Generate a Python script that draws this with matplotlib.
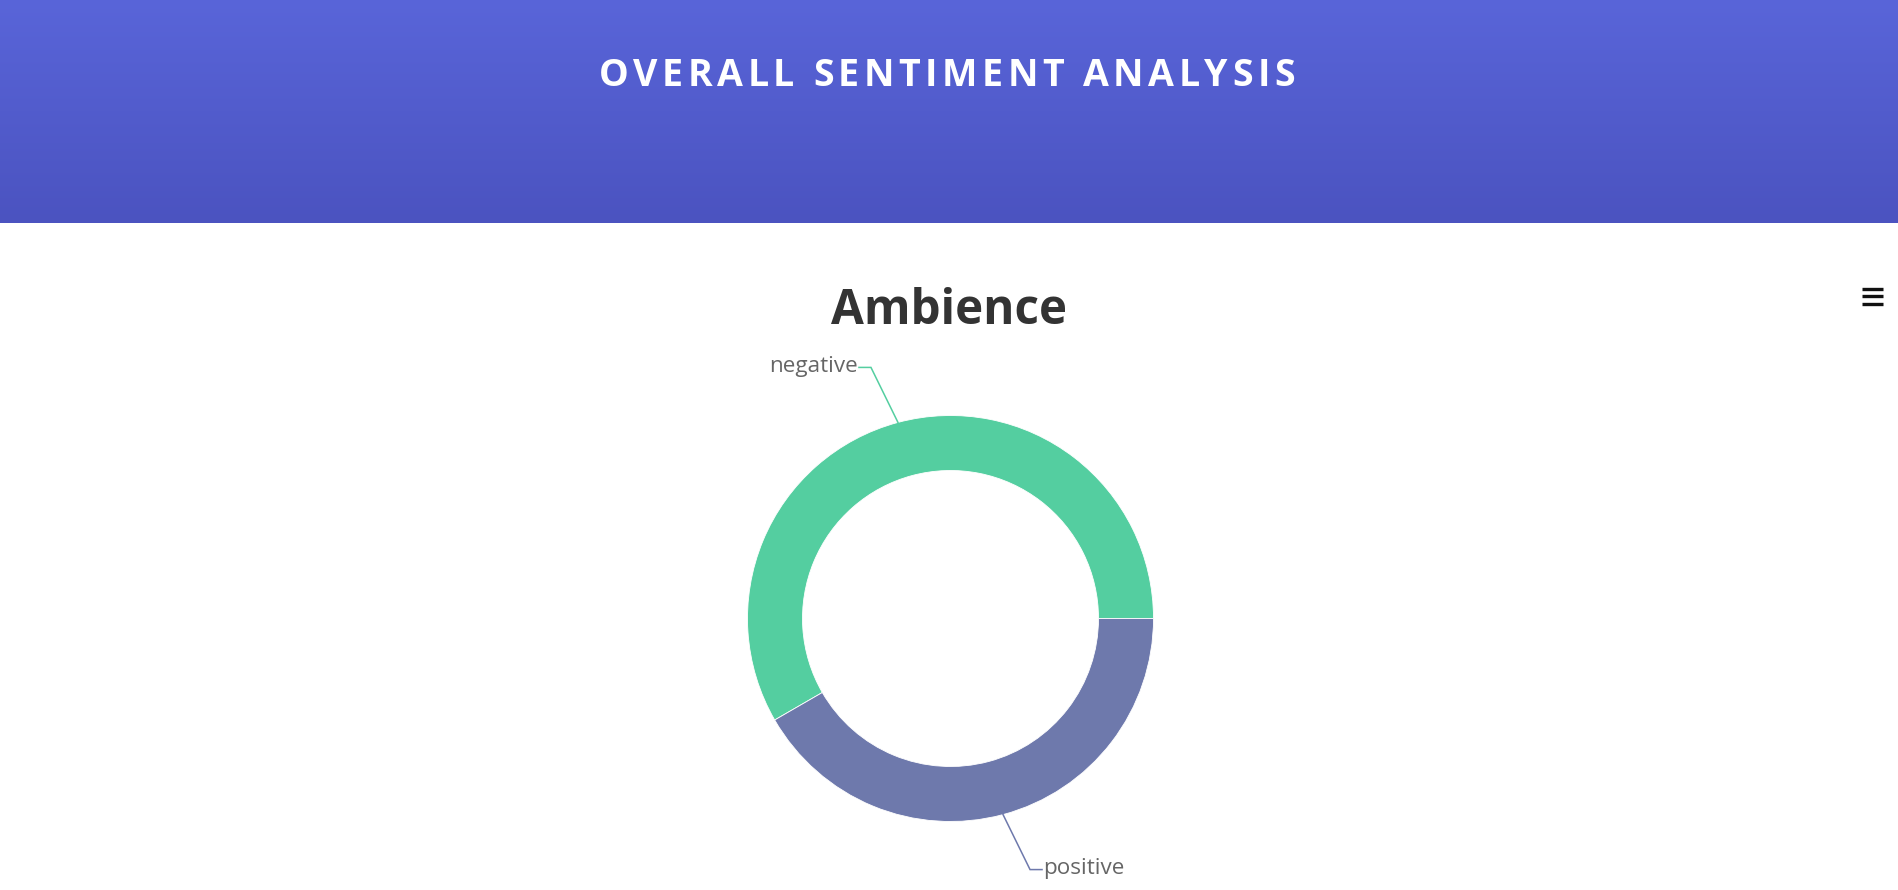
import numpy as np
import matplotlib
matplotlib.use("Agg")
import matplotlib.pyplot as plt
from matplotlib.font_manager import FontProperties

# ---- data ----
categories = ["negative", "positive"]
values = [7, 5]
colors = ["#54CEA0", "#6E79AC"]
chart_title = "Ambience"
page_title = "OVERALL SENTIMENT ANALYSIS"

W, H = 1899, 890
fig = plt.figure(figsize=(W / 100, H / 100), dpi=100)
ax = fig.add_axes([0, 0, 1, 1])

def sy(y):  # screen y (top-down) -> data y
    return H - y

# header gradient
top = np.array([89, 101, 217]) / 255
bot = np.array([75, 83, 192]) / 255
t = np.linspace(0, 1, 256)[:, None]
grad = (top[None, :] * (1 - t) + bot[None, :] * t)[:, None, :]
ax.imshow(grad, extent=(0, W, sy(223), sy(0)), aspect="auto", zorder=0)

# donut
cx, cy = 950.5, 618.5
R, Rin = 203, 148
wedges, _ = ax.pie(values, colors=colors, center=(cx, sy(cy)), radius=R,
                   startangle=0, counterclock=True,
                   wedgeprops=dict(width=R - Rin, linewidth=0.6, edgecolor="white"))

# data labels with connectors
lab_font = FontProperties(family="Open Sans", size=16.2)
for w, name, col in zip(wedges, categories, colors):
    mid = np.deg2rad((w.theta1 + w.theta2) / 2)
    px, py = cx + R * np.cos(mid), cy - R * np.sin(mid)
    sgn = 1 if np.cos(mid) >= 0 else -1
    vs = -1 if np.sin(mid) > 0 else 1
    ex, ey = px + sgn * 27, py + vs * 55
    hx = ex + sgn * 12
    ax.plot([px, ex, hx], [sy(py), sy(ey), sy(ey)], color=col, lw=1.1,
            solid_joinstyle="miter", zorder=3)
    ax.text(hx + sgn * 1, sy(ey - 1), name, fontproperties=lab_font,
            color="#666666", ha="left" if sgn > 0 else "right", va="center")

# chart title
ax.text(cx - 1, sy(311), chart_title, fontsize=34.3, fontweight="bold",
        family="Open Sans", color="#333333", ha="center", va="center")

# header title with letter spacing
hprop = FontProperties(family="Open Sans", weight="bold", size=27)
fig.canvas.draw()
rend = fig.canvas.get_renderer()
spacing = 4.5
widths = [rend.get_text_width_height_descent(c, hprop, ismath=False)[0] for c in page_title]
total = sum(widths) + spacing * (len(page_title) - 1)
x = 947 - total / 2
for c, wd in zip(page_title, widths):
    ax.text(x, sy(76), c, fontproperties=hprop, color="white",
            ha="left", va="center")
    x += wd + spacing

# hamburger menu icon
for yy in (289, 296, 303.5):
    ax.plot([1862, 1883], [sy(yy), sy(yy)], color="#111111", lw=2.4,
            solid_capstyle="butt")

ax.set_xlim(0, W)
ax.set_ylim(0, H)
ax.set_aspect("auto")
ax.axis("off")
fig.savefig("out.png", dpi=100)
